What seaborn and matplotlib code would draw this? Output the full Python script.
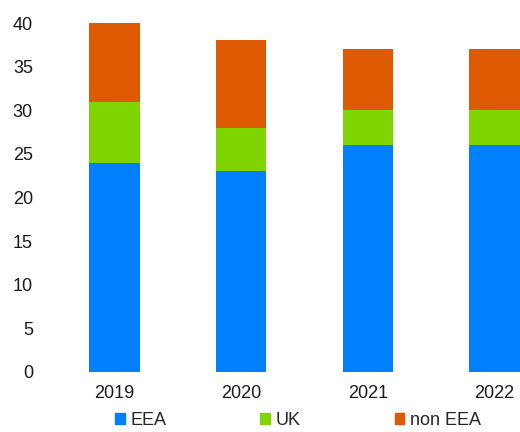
import matplotlib
matplotlib.use("Agg")
import matplotlib.pyplot as plt
import seaborn as sns
import pandas as pd
from matplotlib.patches import Patch

years = ["2019", "2020", "2021", "2022"]
eea = [24, 23, 26, 26]
uk = [7, 5, 4, 4]
non_eea = [9, 10, 7, 7]

colors = {"EEA": "#0080FF", "UK": "#80D400", "non EEA": "#DD5A00"}

df = pd.DataFrame({"year": years, "EEA": eea, "UK": uk, "non EEA": non_eea})
df["eea_uk"] = df["EEA"] + df["UK"]
df["total"] = df["eea_uk"] + df["non EEA"]

sns.set_style("white")
plt.rcParams["font.family"] = ["Liberation Sans", "DejaVu Sans"]

fig = plt.figure(figsize=(5.2, 4.32), dpi=100)
ax = fig.add_axes([51 / 520, 1 - 372 / 432, 1 - 51 / 520, (372 - 23) / 432])

# stacked bars drawn back to front
for col, key in [("total", "non EEA"), ("eea_uk", "UK"), ("EEA", "EEA")]:
    sns.barplot(data=df, x="year", y=col, color=colors[key], width=0.4,
                saturation=1, linewidth=0, ax=ax)

ax.set_ylim(0, 40)
ax.set_xlim(-0.5, 3.2)
ax.set_yticks(range(0, 41, 5))
ax.set_xlabel("")
ax.set_ylabel("")
sns.despine(ax=ax, left=True, bottom=True)
ax.tick_params(axis="y", length=0, pad=13, labelsize=13, colors="#1a1a1a")
ax.tick_params(axis="x", length=0, pad=9, labelsize=13, colors="#1a1a1a")

handles = [Patch(color=colors[k], label=k) for k in ["EEA", "UK", "non EEA"]]
fig.legend(handles=handles, loc="center", bbox_to_anchor=(0.573, 0.026), ncol=3,
           frameon=False, fontsize=13, handlelength=0.55, handleheight=0.55,
           handletextpad=0.3, columnspacing=5.2, borderpad=0)

fig.savefig("out.png", dpi=100)
